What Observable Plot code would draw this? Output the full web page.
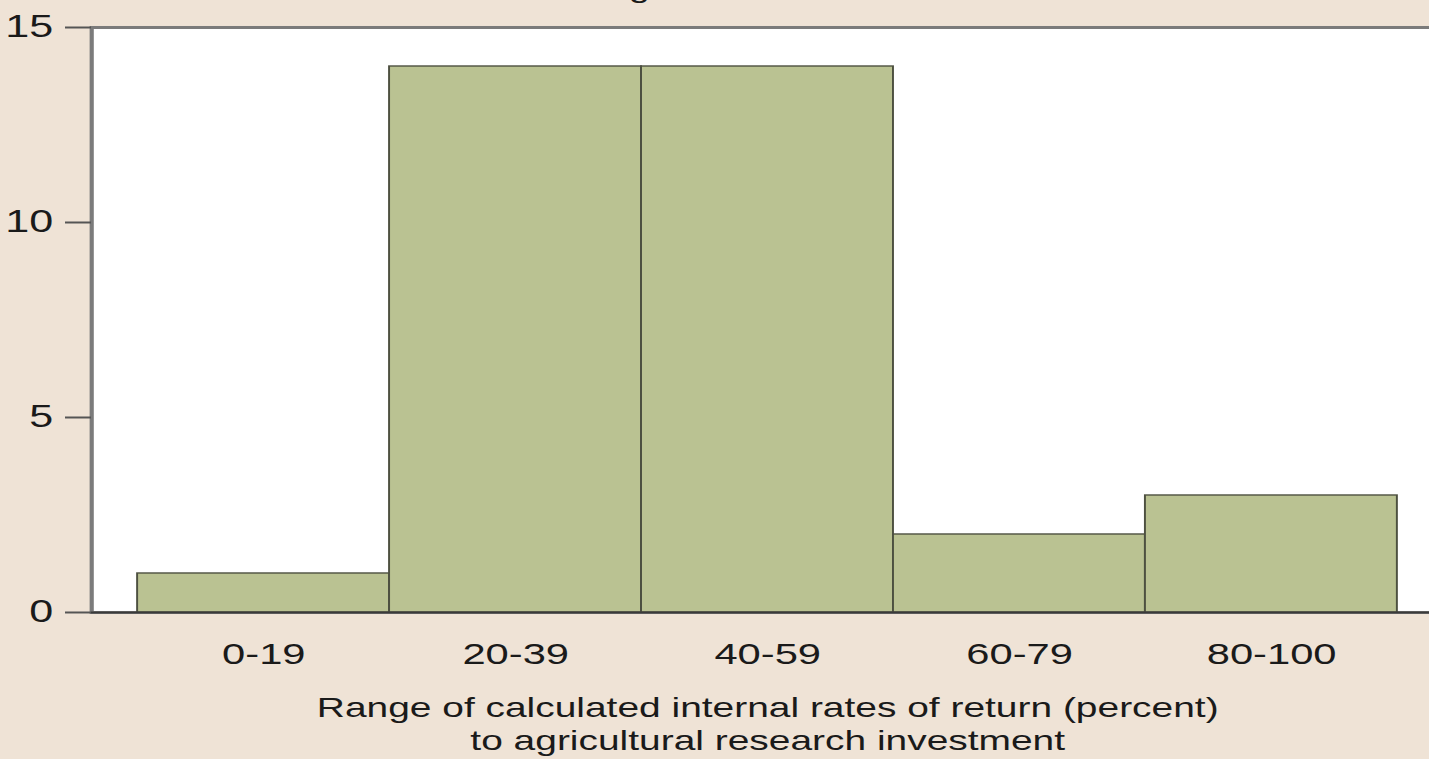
<!DOCTYPE html>
<html>
<head>
<meta charset="utf-8">
<script src="https://cdn.jsdelivr.net/npm/d3@7"></script>
<script src="https://cdn.jsdelivr.net/npm/@observablehq/plot@0.6"></script>
<style>
  html, body { margin: 0; padding: 0; background: #efe3d6; overflow: hidden; width: 1429px; height: 759px; }
  #title { position: absolute; left: 40px; top: -26px; font: 28px "Liberation Sans", Arial, sans-serif; line-height: 28px; color: #1a1a1a; white-space: nowrap; transform: scaleX(1.39); transform-origin: 0 0; }
  #chart { position: absolute; left: 0; top: 0; transform: scaleX(1.39); transform-origin: 0 0; }
</style>
</head>
<body>
<div id="title">Number of studies within each range</div>
<div id="chart"></div>
<script>
const ranges = ["0-19", "20-39", "40-59", "60-79", "80-100"];
const counts = [1, 14, 14, 2, 3];
const yTicks = [0, 5, 10, 15];
const xLabel = "Range of calculated internal rates of return (percent)\nto agricultural research investment";

const data = ranges.map((r, i) => ({range: r, count: counts[i]}));
const S = 1.39; // horizontal stretch of the original figure

const chart = Plot.plot({
  width: 1443 / S,
  height: 759,
  marginTop: 27,
  marginBottom: 147,
  marginLeft: 91 / S,
  marginRight: 0,
  style: {background: "transparent", fontFamily: "'Liberation Sans', Arial, sans-serif", fontSize: "29px", color: "#1a1a1a", overflow: "visible"},
  x: {domain: ranges, paddingInner: 0, paddingOuter: 0.183, round: false, label: null},
  y: {domain: [0, 15], label: null},
  marks: [
    Plot.frame({fill: "white", stroke: "#7b7b7b", strokeWidth: 3}),
    Plot.barY(data, {x: "range", y: "count", fill: "#bac292", stroke: "#4d5040", strokeWidth: 1.4, inset: 0}),
    Plot.ruleY([0], {stroke: "#3a3a3a", strokeWidth: 2}),
    Plot.axisY({ticks: yTicks, tickSize: 26 / S, tickPadding: 9, tickFormat: d => String(d), stroke: "#555", strokeWidth: 2, fontSize: 31, label: null}),
    Plot.axisX({tickSize: 0, tickPadding: 30, fontSize: 30, label: null}),
    Plot.text([xLabel], {frameAnchor: "bottom", dy: 82, lineAnchor: "top", fontSize: 28, lineHeight: 1.15, fill: "#1a1a1a"})
  ]
});
document.getElementById("chart").appendChild(chart);
</script>
</body>
</html>
